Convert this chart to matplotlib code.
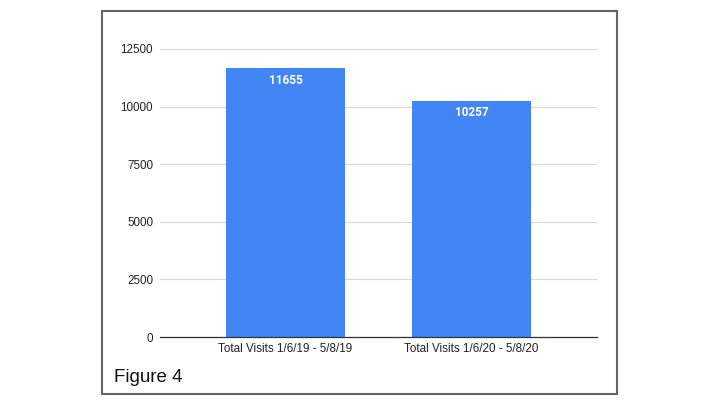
import matplotlib.pyplot as plt
from matplotlib.patches import Rectangle

categories = ["Total Visits 1/6/19 - 5/8/19", "Total Visits 1/6/20 - 5/8/20"]
visits = [11655, 10257]
yticks = [0, 2500, 5000, 7500, 10000, 12500]

plt.rcParams["font.family"] = ["Liberation Sans", "DejaVu Sans"]

fig = plt.figure(figsize=(7.2, 4.05), dpi=100)
ax = fig.add_axes([160 / 720, 68 / 405, 437 / 720, 288 / 405])

x = range(len(categories))
bars = ax.bar(x, visits, width=0.645, color="#4285f4", zorder=3)
for b, v in zip(bars, visits):
    ax.text(b.get_x() + b.get_width() / 2, v - 230, str(v), ha="center", va="top",
            color="white", fontsize=8.5, fontweight="bold", family=["Roboto", "DejaVu Sans"],
            zorder=4)

ax.set_xlim(-0.675, 1.675)
ax.set_ylim(0, 12500)
ax.set_yticks(yticks)
ax.set_xticks(list(x))
ax.set_xticklabels(categories)
ax.tick_params(axis="both", length=0, labelsize=8.4, colors="#222222")
ax.tick_params(axis="y", pad=5)
ax.tick_params(axis="x", pad=4)
ax.grid(axis="y", color="#d9d9d9", linewidth=0.8, zorder=0)
for s in ["top", "right", "left"]:
    ax.spines[s].set_visible(False)
ax.spines["bottom"].set_color("#333333")
ax.spines["bottom"].set_linewidth(0.9)
ax.spines["bottom"].set_zorder(5)

# outer frame
fig.patches.append(Rectangle((102 / 720, 11 / 405), 515 / 720, 383 / 405,
                             transform=fig.transFigure, fill=False,
                             edgecolor="#666666", linewidth=1.5))
fig.text(114 / 720, 23 / 405, "Figure 4", fontsize=13.5, color="#111111",
         ha="left", va="baseline")

plt.savefig("out.png", dpi=100)
